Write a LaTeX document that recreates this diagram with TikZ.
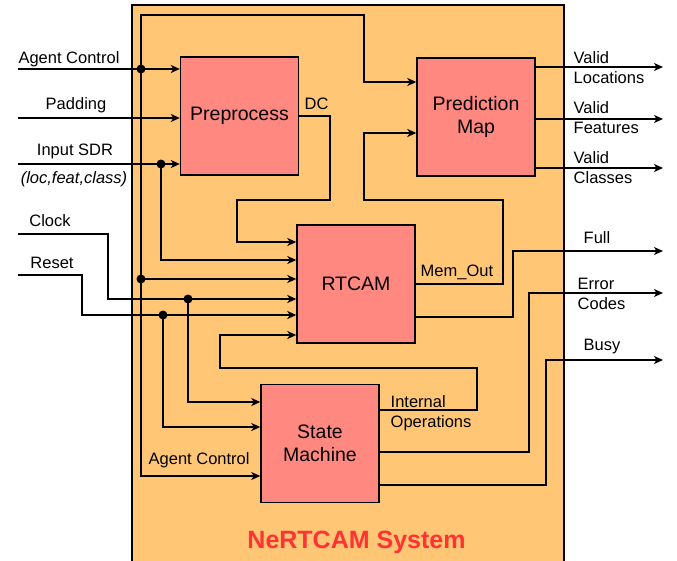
\documentclass[tikz,border=0pt]{standalone}
\usepackage{fontspec}
\setmainfont{Liberation Sans}
\usetikzlibrary{arrows.meta}
\definecolor{sysfill}{HTML}{FFC676}
\definecolor{blockfill}{HTML}{FF8880}
\definecolor{titlered}{HTML}{FF3333}

\begin{document}
\begin{tikzpicture}[x=1pt,y=-1pt,line width=1.4pt,
    block/.style={draw,fill=blockfill,minimum width=118pt,minimum height=118pt,
        inner sep=0pt,align=center,font=\fontsize{19.5}{23.5}\selectfont},
    lbl/.style={inner sep=0pt,font=\fontsize{16.5}{20}\selectfont},
    arr/.style={-{Stealth[length=9pt,width=8pt,inset=2.5pt]}},
    dot/.style={circle,fill,inner sep=0pt,minimum size=9pt}]
    \useasboundingbox (0,0) rectangle (677,560);
        %draw system box
    \draw[fill=sysfill] (132,5) rectangle (564,566);
    \node[anchor=base,text=titlered,font=\fontsize{25}{30}\selectfont\bfseries] (title) at (356.5,548) {NeRTCAM System};
        %draw blocks
    \node[block] (pre) at (239.5,116) {Preprocess};
    \node[block] (pm) at (476,117) {Prediction\\Map};
    \node[block] (rt) at (356,284) {RTCAM};
    \node[block] (sm) at (320,443.5) {State\\Machine};
        %inputs and outputs
    \coordinate (agent) at (18,69);
    \coordinate (pad) at (18,118);
    \coordinate (sdr) at (18,164);
    \coordinate (clk) at (18,234);
    \coordinate (rst) at (18,275);
    \coordinate (loc) at (663,67);
    \coordinate (feat) at (663,119);
    \coordinate (cls) at (663,168);
    \coordinate (full) at (663,251);
    \coordinate (err) at (663,293);
    \coordinate (busy) at (663,360);
        %draw junction dots
    \node[dot] (agentdot) at (141,69) {};
    \node[dot] (agentdot2) at (141,279) {};
    \node[dot] (sdrdot) at (161,164) {};
    \node[dot] (clkdot) at (188,299) {};
    \node[dot] (rstdot) at (163,315) {};

        %%%%%%%%%%%%%%%%%%%%%%%%%%%%%%%%%%%
        %%%Agent Control
        %%%%%%%%%%%%%%%%%%%%%%%%%%%%%%%%%%%
    \draw[arr] (agent) -- (agent -| pre.west);
        %draw line up and over to prediction map
    \draw[arr] (agentdot.center) |- (364,15) |- (pm.west |- 0,82);
        %draw line down to state machine
    \draw[arr] (agentdot.center) |- (sm.west |- 0,476);
    \draw[arr] (agentdot2.center) -- (agentdot2 -| rt.west);
        %%%%%%%%%%%%%%%%%%%%%%%%%%%%%%%%%%%
        %%%Padding, Input SDR
        %%%%%%%%%%%%%%%%%%%%%%%%%%%%%%%%%%%
    \draw[arr] (pad) -- (pad -| pre.west);
    \draw[arr] (sdr) -- (sdr -| pre.west);
    \draw[arr] (sdrdot.center) |- (rt.west |- 0,260);
        %%%%%%%%%%%%%%%%%%%%%%%%%%%%%%%%%%%
        %%%Clock, Reset
        %%%%%%%%%%%%%%%%%%%%%%%%%%%%%%%%%%%
    \draw[arr] (clk) -| (108,299) -- (rt.west |- 0,299);
    \draw[arr] (clkdot.center) |- (sm.west |- 0,402);
    \draw[arr] (rst) -| (82,315) -- (rt.west |- 0,315);
    \draw[arr] (rstdot.center) |- (sm.west |- 0,427);
        %%%%%%%%%%%%%%%%%%%%%%%%%%%%%%%%%%%
        %%%internal paths
        %%%%%%%%%%%%%%%%%%%%%%%%%%%%%%%%%%%
        %draw DC line
    \draw[arr] (pre.east) -| (330,200) -| (237,242) -- (rt.west |- 0,242);
        %draw Mem_Out line
    \draw[arr] (rt.east) -| (503,200) -| (364,133) -- (pm.west |- 0,133);
        %draw internal operations line
    \draw[arr] (sm.east |- 0,410) -| (477,368) -| (220,335) -- (rt.west |- 0,335);
        %%%%%%%%%%%%%%%%%%%%%%%%%%%%%%%%%%%
        %%%outputs
        %%%%%%%%%%%%%%%%%%%%%%%%%%%%%%%%%%%
    \draw[arr] (pm.east |- loc) -- (loc);
    \draw[arr] (pm.east |- feat) -- (feat);
    \draw[arr] (pm.east |- cls) -- (cls);
    \draw[arr] (rt.east |- 0,317) -| (513,251) -- (full);
    \draw[arr] (sm.east |- 0,452) -| (529,293) -- (err);
    \draw[arr] (sm.east |- 0,485) -| (546,360) -- (busy);

        %draw labels (base of a two line label is its last line)
    \node[lbl,anchor=base] at (69,63) {Agent Control};
    \node[lbl,anchor=base] at (76,109) {Padding};
    \node[lbl,anchor=base] at (75,155) {Input SDR};
    \node[lbl,anchor=base,font=\fontsize{16.5}{20}\selectfont\itshape] at (74,183) {(loc,feat,class)};
    \node[lbl,anchor=base] at (50,226) {Clock};
    \node[lbl,anchor=base] at (52,268) {Reset};
    \node[lbl,anchor=base west] at (304,109) {DC};
    \node[lbl,anchor=base west] at (420,276) {Mem\_Out};
    \node[lbl,anchor=base west,align=left] at (390,427) {Internal\\Operations};
    \node[lbl,anchor=base west] at (148,464) {Agent Control};
    \node[lbl,anchor=base west,align=left] at (573,83) {Valid\\Locations};
    \node[lbl,anchor=base west,align=left] at (573,133) {Valid\\Features};
    \node[lbl,anchor=base west,align=left] at (573,183) {Valid\\Classes};
    \node[lbl,anchor=base west] at (583,243) {Full};
    \node[lbl,anchor=base west,align=left] at (577,309) {Error\\Codes};
    \node[lbl,anchor=base west] at (583,350) {Busy};
\end{tikzpicture}
\end{document}
